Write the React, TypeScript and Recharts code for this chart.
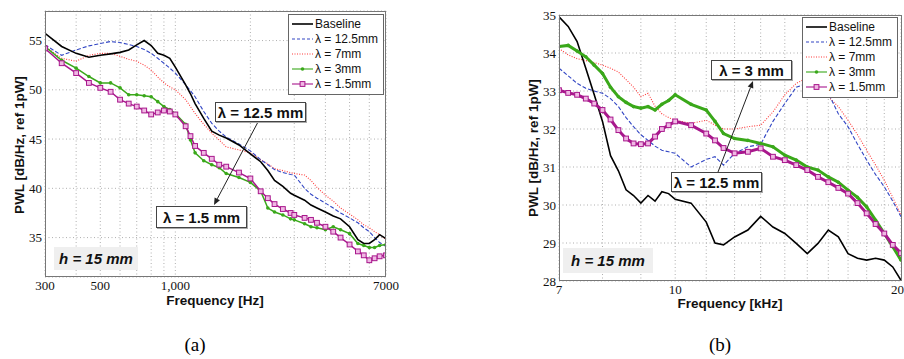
import React from 'react';
import { LineChart, Line, XAxis, YAxis, CartesianGrid, Legend } from 'recharts';

// ---- panel (a): frequency in Hz ----
const freqA = [300, 350, 400, 450, 500, 550, 600, 650, 700, 750, 800, 850, 900, 950, 1000, 1100, 1150, 1200, 1300, 1400, 1500, 1600, 1800, 2000, 2200, 2350, 2500, 2700, 2900, 3000, 3300, 3500, 3700, 4000, 4300, 4600, 5000, 5400, 5700, 6000, 6300, 6600, 7000];
const baselineA = [55.74, 54.4, 53.7, 53.3, 53.5, 53.65, 53.8, 54.05, 54.56, 55.0, 54.5, 53.7, 53.5, 53.2, 52.3, 50.5, 49.6, 48.6, 47.1, 45.8, 45.4, 45.1, 44.4, 43.5, 42.7, 41.8, 40.8, 40.2, 39.5, 39.3, 38.8, 38.3, 38.0, 37.6, 37.2, 36.9, 36.1, 34.8, 34.4, 34.4, 34.8, 35.3, 34.9];
const lam125A = [54.56, 53.5, 54.05, 54.46, 54.7, 54.9, 54.8, 54.6, 54.4, 54.1, 53.7, 53.2, 52.7, 52.2, 51.7, 50.5, 49.9, 49.3, 47.8, 46.6, 45.8, 45.2, 44.5, 43.8, 42.9, 42.4, 41.9, 41.6, 41.4, 41.35, 40.0, 39.4, 39.0, 38.5, 38.0, 37.5, 37.0, 36.5, 36.0, 35.6, 35.0, 34.5, 34.1];
const lam7A = [54.4, 53.2, 52.9, 53.5, 53.7, 53.7, 53.4, 53.1, 52.9, 52.5, 52.0, 51.3, 50.7, 50.3, 50.0, 49.0, 48.3, 47.6, 46.5, 45.6, 44.9, 44.2, 43.9, 43.6, 42.9, 42.5, 42.0, 41.8, 41.6, 41.5, 41.35, 40.8, 40.1, 39.3, 38.7, 38.0, 37.4, 36.8, 36.3, 36.0, 35.6, 35.3, 34.8];
const lam3A = [54.4, 53.0, 52.2, 51.35, 50.7, 50.7, 50.2, 49.5, 49.5, 49.4, 49.3, 48.8, 48.3, 48.0, 47.6, 46.5, 44.9, 43.6, 42.8, 42.4, 42.1, 41.5, 41.1, 40.6, 39.7, 38.0, 37.6, 37.3, 36.9, 36.8, 36.4, 36.1, 36.0, 35.8, 36.1, 35.8, 35.4, 34.4, 34.2, 34.0, 34.0, 34.2, 34.3];
const lam15A = [54.2, 52.7, 51.7, 50.7, 50.2, 49.8, 49.0, 48.6, 48.3, 47.9, 47.5, 47.7, 47.9, 47.8, 47.5, 46.3, 45.3, 44.3, 43.6, 43.0, 42.4, 42.2, 41.6, 41.0, 39.7, 39.0, 38.4, 37.9, 37.5, 37.3, 37.0, 36.8, 36.5, 36.1, 35.6, 35.0, 34.3, 33.6, 33.2, 32.7, 32.9, 33.1, 33.2];

// ---- panel (b): frequency in kHz ----
const freqB = [7.0, 7.2, 7.4, 7.6, 7.8, 8.0, 8.2, 8.4, 8.6, 8.8, 9.0, 9.2, 9.4, 9.6, 9.8, 10, 10.5, 11, 11.3, 11.6, 12, 12.5, 13, 13.5, 14, 14.5, 15, 15.5, 16, 16.5, 17, 17.5, 18, 18.5, 19, 19.5, 20];
const baselineB = [34.95, 34.7, 34.3, 33.6, 32.9, 32.2, 31.3, 30.9, 30.4, 30.25, 30.05, 30.25, 30.1, 30.35, 30.3, 30.15, 30.05, 29.55, 29.0, 28.95, 29.16, 29.34, 29.7, 29.42, 29.25, 28.99, 28.72, 28.99, 29.34, 29.16, 28.72, 28.6, 28.55, 28.6, 28.55, 28.37, 28.02];
const lam125B = [33.6, 33.4, 33.2, 33.07, 33.0, 32.94, 32.8, 32.59, 32.3, 32.06, 31.85, 31.7, 31.55, 31.44, 31.4, 31.36, 31.0, 31.2, 31.27, 31.05, 31.36, 31.53, 31.6, 32.2, 32.67, 33.1, 33.2, 33.3, 32.94, 32.4, 32.06, 31.6, 31.18, 30.8, 30.48, 30.1, 29.69];
const lam7B = [34.12, 33.95, 33.85, 33.8, 33.75, 33.68, 33.6, 33.5, 33.3, 33.1, 32.85, 32.94, 32.6, 32.4, 32.3, 32.23, 32.15, 32.23, 32.1, 32.0, 32.0, 32.06, 32.1, 32.45, 32.9, 33.2, 33.35, 33.3, 32.85, 32.59, 32.23, 31.85, 31.44, 31.05, 30.65, 30.2, 29.73];
const lam3B = [34.17, 34.2, 34.05, 33.9, 33.68, 33.46, 33.1, 32.85, 32.7, 32.59, 32.55, 32.59, 32.5, 32.65, 32.75, 32.9, 32.65, 32.5, 32.2, 31.88, 31.75, 31.7, 31.62, 31.53, 31.31, 31.18, 31.0, 30.92, 30.74, 30.6, 30.39, 30.2, 29.95, 29.6, 29.25, 28.9, 28.55];
const lam15B = [33.02, 32.95, 32.9, 32.8, 32.67, 32.5, 32.25, 31.97, 31.75, 31.62, 31.6, 31.62, 31.8, 32.0, 32.1, 32.2, 32.1, 31.88, 31.7, 31.5, 31.36, 31.4, 31.49, 31.27, 31.18, 31.05, 30.92, 30.74, 30.6, 30.45, 30.3, 30.05, 29.78, 29.5, 29.25, 28.95, 28.73];

const seriesNames = ['Baseline', 'λ = 12.5mm', 'λ = 7mm', 'λ = 3mm', 'λ = 1.5mm'];

const xTicksA = [300, 400, 500, 600, 700, 800, 900, 1000, 2000, 3000, 4000, 5000, 6000, 7000];
const xLabelsA: Record<number, string> = { 300: '300', 500: '500', 1000: '1,000', 7000: '7000' };
const yTicksA = [35, 40, 45, 50, 55];
const xTicksB = [7, 8, 9, 10, 11, 12, 13, 14, 15, 16, 17, 18, 19, 20];
const xLabelsB: Record<number, string> = { 7: '7', 10: '10', 20: '20' };
const yTicksB = [28, 29, 30, 31, 32, 33, 34, 35];

const COLORS = ['#000000', '#3246c4', '#ff3b3b', '#3aa81a', '#a8178c'];
const SQUARE_FILL = '#f0b8e4';

const buildRows = (freq: number[], cols: number[][]) =>
  freq.map((f, i) => ({ f, s0: cols[0][i], s1: cols[1][i], s2: cols[2][i], s3: cols[3][i], s4: cols[4][i] }));

const dataA = buildRows(freqA, [baselineA, lam125A, lam7A, lam3A, lam15A]);
const dataB = buildRows(freqB, [baselineB, lam125B, lam7B, lam3B, lam15B]);

const FONT = '"Liberation Sans", Arial, sans-serif';

const starDot = (p: any) =>
  p.cx == null ? null : <circle key={`g${p.index}`} cx={p.cx} cy={p.cy} r={1.8} fill={COLORS[3]} stroke="none" />;
const squareDot = (p: any) =>
  p.cx == null ? null : (
    <rect key={`m${p.index}`} x={p.cx - 2.4} y={p.cy - 2.4} width={4.8} height={4.8} fill={SQUARE_FILL} stroke={COLORS[4]} strokeWidth={1} />
  );

function LegendBox() {
  return (
    <div style={{ border: '1px solid #666', background: '#fff', width: 94, padding: '1px 0 2px 0', fontFamily: FONT, fontSize: 12, color: '#111' }}>
      {seriesNames.map((name, i) => (
        <div key={name} style={{ display: 'flex', alignItems: 'center', height: 15.2 }}>
          <svg width={24} height={12} style={{ flex: 'none', marginLeft: 2 }}>
            <line x1={1} x2={22} y1={6} y2={6} stroke={COLORS[i]}
              strokeWidth={i === 0 ? 1.6 : 1.1}
              strokeDasharray={i === 1 ? '3 2' : i === 2 ? '1 1.5' : undefined} />
            {i === 3 && <circle cx={11.5} cy={6} r={1.8} fill={COLORS[3]} />}
            {i === 4 && <rect x={9.1} y={3.6} width={4.8} height={4.8} fill={SQUARE_FILL} stroke={COLORS[4]} />}
          </svg>
          <span style={{ whiteSpace: 'nowrap' }}>{name}</span>
        </div>
      ))}
    </div>
  );
}

type PanelProps = {
  data: any[];
  left: number;
  width: number;
  height: number;
  margin: { top: number; right: number; left: number; bottom: number };
  yWidth: number;
  xHeight: number;
  xDomain: [number, number];
  xTicks: number[];
  xLabels: Record<number, string>;
  yDomain: [number, number];
  yTicks: number[];
  legendPos: { left: number; top: number };
  markWidth: number;
  endAnchorLast?: boolean;
};

function Panel(p: PanelProps) {
  const lastTick = p.xTicks[p.xTicks.length - 1];
  const renderXTick = (t: any) => {
    const v = t.payload?.value;
    const label = p.xLabels[v] ?? '';
    if (!label) return <g />;
    const atEnd = p.endAnchorLast && v === lastTick;
    return (
      <text x={atEnd ? t.x + 3 : t.x} y={t.y} dy="0.71em" textAnchor={atEnd ? 'end' : 'middle'} fontSize={13} fill="#111">
        {label}
      </text>
    );
  };
  return (
    <div style={{ position: 'absolute', left: p.left, top: 0 }}>
      <LineChart width={p.width} height={p.height} data={p.data} margin={p.margin}>
        <CartesianGrid stroke="#9a9a9a" strokeDasharray="1 2.5" strokeWidth={0.8} />
        <XAxis dataKey="f" type="number" scale="log" domain={p.xDomain} allowDataOverflow
          ticks={p.xTicks} interval={0} height={p.xHeight}
          tick={renderXTick} tickSize={0} tickMargin={4}
          axisLine={false} tickLine={false} />
        <YAxis type="number" domain={p.yDomain} allowDataOverflow ticks={p.yTicks} interval={0}
          width={p.yWidth} tick={{ fontSize: 13, fill: '#111' }} tickSize={0} tickMargin={3}
          axisLine={false} tickLine={false} />
        <Legend layout="vertical" align="center" verticalAlign="middle"
          wrapperStyle={{ position: 'absolute', left: p.legendPos.left, top: p.legendPos.top, width: 'auto', height: 'auto' }}
          content={() => <LegendBox />} />
        <Line dataKey="s2" name={seriesNames[2]} stroke={COLORS[2]} strokeWidth={1.1} strokeDasharray="1 1.5" dot={false} isAnimationActive={false} />
        <Line dataKey="s1" name={seriesNames[1]} stroke={COLORS[1]} strokeWidth={1.1} strokeDasharray="4 2" dot={false} isAnimationActive={false} />
        <Line dataKey="s0" name={seriesNames[0]} stroke={COLORS[0]} strokeWidth={1.6} dot={false} isAnimationActive={false} />
        <Line dataKey="s3" name={seriesNames[3]} stroke={COLORS[3]} strokeWidth={p.markWidth} dot={starDot} isAnimationActive={false} />
        <Line dataKey="s4" name={seriesNames[4]} stroke={COLORS[4]} strokeWidth={p.markWidth} dot={squareDot} isAnimationActive={false} />
      </LineChart>
    </div>
  );
}

const boxStyle: React.CSSProperties = {
  position: 'absolute', boxSizing: 'border-box', background: '#fff', border: '1px solid #444',
  boxShadow: '1px 1px 0 #aaa', fontFamily: FONT, fontWeight: 'bold', fontSize: 15, color: '#111',
  display: 'flex', alignItems: 'center', justifyContent: 'center', whiteSpace: 'nowrap',
};
const hStyle: React.CSSProperties = {
  position: 'absolute', boxSizing: 'border-box', background: '#efefef', fontFamily: FONT,
  fontWeight: 'bold', fontStyle: 'italic', fontSize: 15, color: '#111',
  display: 'flex', alignItems: 'center', justifyContent: 'center', whiteSpace: 'nowrap',
};
const titleStyle: React.CSSProperties = {
  position: 'absolute', fontFamily: FONT, fontWeight: 'bold', fontSize: 13.5, color: '#111',
  whiteSpace: 'nowrap', transform: 'translate(-50%, -50%)',
};

function Arrow({ x1, y1, x2, y2 }: { x1: number; y1: number; x2: number; y2: number }) {
  const dx = x2 - x1, dy = y2 - y1, len = Math.hypot(dx, dy);
  const ux = dx / len, uy = dy / len;
  const bx = x2 - ux * 7, by = y2 - uy * 7;
  const pts = `${x2},${y2} ${bx + uy * 3},${by - ux * 3} ${bx - uy * 3},${by + ux * 3}`;
  return (
    <g>
      <line x1={x1} y1={y1} x2={bx} y2={by} stroke="#222" strokeWidth={1} />
      <polygon points={pts} fill="#222" />
    </g>
  );
}

export default function App() {
  return (
    <div style={{ position: 'absolute', left: 0, top: 0, width: 904, height: 359, background: '#fff', overflow: 'hidden' }}>
      <Panel data={dataA} left={0} width={400} height={320}
        margin={{ top: 11, right: 14, left: 0, bottom: 0 }} yWidth={45} xHeight={43}
        xDomain={[300, 7000]} xTicks={xTicksA} xLabels={xLabelsA}
        yDomain={[31, 58]} yTicks={yTicksA} legendPos={{ left: 288, top: 14 }} markWidth={1.5} />
      <Panel data={dataB} left={500} width={404} height={320}
        margin={{ top: 15, right: 3, left: 0, bottom: 0 }} yWidth={59} xHeight={39}
        xDomain={[7, 20]} xTicks={xTicksB} xLabels={xLabelsB}
        yDomain={[28, 35]} yTicks={yTicksB} legendPos={{ left: 302, top: 17 }} markWidth={3}
        endAnchorLast />

      {/* plot frames */}
      <div style={{ position: 'absolute', left: 45, top: 11, width: 341, height: 266, border: '1px solid #777', boxSizing: 'border-box', pointerEvents: 'none' }} />
      <div style={{ position: 'absolute', left: 559, top: 15, width: 343, height: 266, border: '1px solid #777', boxSizing: 'border-box', pointerEvents: 'none' }} />

      {/* axis titles */}
      <div style={{ ...titleStyle, left: 215, top: 300 }}>Frequency [Hz]</div>
      <div style={{ ...titleStyle, left: 19, top: 145, transform: 'translate(-50%, -50%) rotate(-90deg)' }}>PWL [dB/Hz, ref 1pW]</div>
      <div style={{ ...titleStyle, left: 730, top: 303 }}>Frequency [kHz]</div>
      <div style={{ ...titleStyle, left: 533, top: 148, transform: 'translate(-50%, -50%) rotate(-90deg)' }}>PWL [dB/Hz, ref 1pW]</div>

      {/* annotations */}
      <svg width={904} height={359} style={{ position: 'absolute', left: 0, top: 0, pointerEvents: 'none' }}>
        <Arrow x1={258} y1={122} x2={214} y2={205} />
        <Arrow x1={718} y1={172} x2={753} y2={81} />
      </svg>
      <div style={{ ...boxStyle, left: 215, top: 102, width: 91, height: 20 }}>λ = 12.5 mm</div>
      <div style={{ ...boxStyle, left: 156, top: 206, width: 91, height: 22 }}>λ = 1.5 mm</div>
      <div style={{ ...hStyle, left: 54, top: 247, width: 84, height: 23 }}>h = 15 mm</div>
      <div style={{ ...boxStyle, left: 711, top: 60, width: 81, height: 20 }}>λ = 3 mm</div>
      <div style={{ ...boxStyle, left: 671, top: 172, width: 91, height: 20 }}>λ = 12.5 mm</div>
      <div style={{ ...hStyle, left: 563, top: 248, width: 90, height: 25 }}>h = 15 mm</div>

      {/* sub-figure labels */}
      <div style={{ position: 'absolute', left: 195, top: 345, transform: 'translate(-50%, -50%)', fontFamily: '"Liberation Serif", serif', fontSize: 19 }}>(a)</div>
      <div style={{ position: 'absolute', left: 720, top: 345, transform: 'translate(-50%, -50%)', fontFamily: '"Liberation Serif", serif', fontSize: 19 }}>(b)</div>
    </div>
  );
}
